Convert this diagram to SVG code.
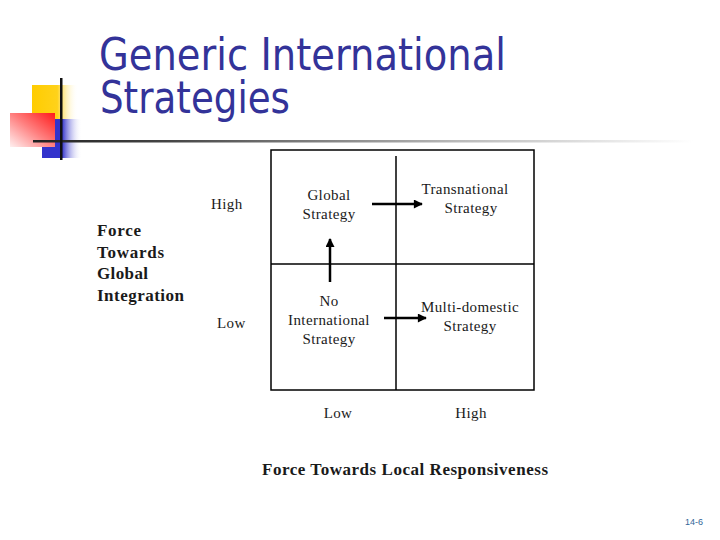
<svg xmlns="http://www.w3.org/2000/svg" width="720" height="540" viewBox="0 0 720 540">
<defs>
<linearGradient id="gy" x1="0" y1="0" x2="1" y2="0"><stop offset="0" stop-color="#FFCC00"/><stop offset="0.55" stop-color="#FFD21A"/><stop offset="1" stop-color="#FFFFFF" stop-opacity="0"/></linearGradient>
<linearGradient id="gb" x1="0" y1="0" x2="1" y2="0"><stop offset="0" stop-color="#3333CC"/><stop offset="0.5" stop-color="#3333CC"/><stop offset="1" stop-color="#FFFFFF" stop-opacity="0"/></linearGradient>
<linearGradient id="gr" x1="1" y1="0" x2="0" y2="1"><stop offset="0" stop-color="#FF1A1A"/><stop offset="0.5" stop-color="#FF8080"/><stop offset="1" stop-color="#FFF0F0"/></linearGradient>
<linearGradient id="gl" x1="0" y1="0" x2="1" y2="0"><stop offset="0" stop-color="#222222"/><stop offset="0.2" stop-color="#444444"/><stop offset="0.65" stop-color="#BBBBBB"/><stop offset="1" stop-color="#FFFFFF"/></linearGradient>
<marker id="ah" viewBox="0 0 10 10" refX="9" refY="5" markerWidth="10" markerHeight="9" markerUnits="userSpaceOnUse" orient="auto"><path d="M0,0 L10,5 L0,10 Z" fill="#000"/></marker>
<style>
.t{font-family:"DejaVu Sans",Tahoma,sans-serif;fill:#333399;font-size:44px}
.s{font-family:"Liberation Serif","Times New Roman",serif;fill:#1a1a1a;font-size:15px;letter-spacing:0.4px}
.b{font-family:"Liberation Serif","Times New Roman",serif;fill:#1a1a1a;font-size:17px;font-weight:bold}
.c{text-anchor:middle}
.ln{stroke:#000;stroke-width:1.5;fill:none}
.ar{stroke:#000;stroke-width:2.5;fill:none;marker-end:url(#ah)}
</style>
</defs>
<g id="logo">
<rect x="32" y="85" width="46" height="34" fill="url(#gy)"/>
<rect x="42" y="119" width="40" height="39" fill="url(#gb)"/>
<rect x="10" y="113" width="45" height="34" fill="url(#gr)"/>
<rect x="33" y="140" width="660" height="2.5" fill="url(#gl)"/>
<rect x="60" y="78" width="2.5" height="82" fill="#111"/>
</g>
<g id="title">
<text class="t" x="99" y="70" textLength="407" lengthAdjust="spacingAndGlyphs">Generic International</text>
<text class="t" x="100" y="113" textLength="190" lengthAdjust="spacingAndGlyphs">Strategies</text>
</g>
<g id="matrix">
<rect class="ln" x="271" y="150" width="263" height="240"/>
<line class="ln" x1="396" y1="156" x2="396" y2="390"/>
<line class="ln" x1="271" y1="264" x2="534" y2="264"/>
</g>
<g id="global">
<text class="s c" x="329" y="200">Global</text>
<text class="s c" x="329" y="219">Strategy</text>
</g>
<g id="transnational">
<text class="s c" x="465" y="194">Transnational</text>
<text class="s c" x="471" y="213">Strategy</text>
</g>
<g id="nointl">
<text class="s c" x="329" y="306">No</text>
<text class="s c" x="329" y="325">International</text>
<text class="s c" x="329" y="344">Strategy</text>
</g>
<g id="multidomestic">
<text class="s c" x="470" y="312">Multi-domestic</text>
<text class="s c" x="470" y="331">Strategy</text>
</g>
<g id="connectors">
<line class="ar" x1="372" y1="204" x2="422" y2="204"/>
<line class="ar" x1="330" y1="282" x2="330" y2="239"/>
<line class="ar" x1="384" y1="318" x2="426" y2="318"/>
</g>
<g id="axis-y">
<text class="s" x="211" y="209">High</text>
<text class="s" x="217" y="328">Low</text>
<text class="b" x="97" y="236" textLength="44" lengthAdjust="spacing">Force</text>
<text class="b" x="97" y="258" textLength="67" lengthAdjust="spacing">Towards</text>
<text class="b" x="97" y="279" textLength="51" lengthAdjust="spacing">Global</text>
<text class="b" x="97" y="301" textLength="87" lengthAdjust="spacing">Integration</text>
</g>
<g id="axis-x">
<text class="s c" x="338" y="418">Low</text>
<text class="s c" x="471" y="418">High</text>
<text class="b" x="262" y="475" textLength="286" lengthAdjust="spacing">Force Towards Local Responsiveness</text>
</g>
<text x="685" y="525" font-family="'Liberation Sans',Arial,sans-serif" font-size="9" fill="#336699">14-6</text>
</svg>
